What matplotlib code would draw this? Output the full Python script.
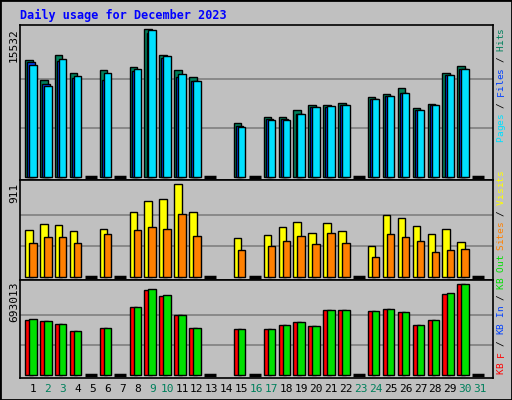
import matplotlib
matplotlib.use("Agg")
import matplotlib.pyplot as plt
from matplotlib.patches import Rectangle
import numpy as np

days = list(range(1, 32))
weekend = [2, 3, 9, 10, 16, 17, 23, 24, 30, 31]
no_data = [14]
max_hits, max_visits, max_kb = 15532, 911, 693013

# relative heights (fraction of panel max), 0 = no traffic
hits  = [0.79,0.655,0.826,0.703,0,0.724,0,0.744,1.0,0.826,0.724,0.676,0,0,0.364,0,0.407,0.407,0.455,0.488,0.488,0.5,0,0.543,0.563,0.604,0.468,0.495,0.705,0.753,0]
files = [0.777,0.628,0.786,0.669,0,0.656,0,0.715,0.977,0.806,0.674,0.65,0,0,0.343,0,0.39,0.39,0.43,0.475,0.475,0.49,0,0.53,0.55,0.57,0.455,0.49,0.69,0.733,0]
pages = [0.756,0.615,0.8,0.683,0,0.703,0,0.73,0.995,0.82,0.694,0.65,0,0,0.337,0,0.387,0.387,0.427,0.475,0.48,0.49,0,0.53,0.55,0.57,0.455,0.49,0.69,0.733,0]
visits = [0.5,0.565,0.554,0.489,0,0.51,0,0.694,0.813,0.835,1.0,0.694,0,0,0.414,0,0.446,0.532,0.586,0.468,0.576,0.489,0,0.327,0.662,0.63,0.543,0.457,0.511,0.37,0]
sites  = [0.363,0.424,0.424,0.36,0,0.457,0,0.5,0.532,0.51,0.673,0.435,0,0,0.284,0,0.327,0.381,0.435,0.349,0.468,0.36,0,0.209,0.457,0.424,0.381,0.263,0.284,0.295,0]
kb_f   = [0.607,0.593,0.56,0.484,0,0.516,0,0.747,0.934,0.872,0.659,0.516,0,0,0.505,0,0.505,0.549,0.582,0.538,0.714,0.714,0,0.703,0.725,0.692,0.549,0.604,0.89,1.0,0]
kb_out = [0.615,0.593,0.56,0.484,0,0.516,0,0.747,0.945,0.879,0.659,0.516,0,0,0.505,0,0.505,0.549,0.582,0.538,0.714,0.714,0,0.703,0.725,0.692,0.549,0.604,0.9,1.0,0]

BG = "#C0C0C0"
W, H = 512, 400
fig = plt.figure(figsize=(5.12, 4.0), dpi=100, facecolor=BG)
fig.patches.append(Rectangle((0, 0), 1, 1, transform=fig.transFigure, fill=False, ec="black", lw=2))

def ax_at(top, bottom, ylim):
    ax = fig.add_axes([20 / W, 1 - bottom / H, (493 - 20) / W, (bottom - top) / H])
    ax.set_facecolor(BG)
    ax.set_xlim(0.13, 31.87)
    ax.set_ylim(*ylim)
    ax.set_xticks([]); ax.set_yticks([])
    for s in ax.spines.values():
        s.set_color("black"); s.set_linewidth(1.2)
    ax.axhline(1/3, color="#808080", lw=1.2, zorder=0)
    ax.axhline(2/3, color="#808080", lw=1.2, zorder=0)
    return ax

def bars(ax, series):
    for vals, off, col in series:
        for d, v in zip(days, vals):
            if v > 0:
                ax.bar(d + off, v, width=0.5, align="edge", color=col, ec="black", lw=1, zorder=2)
    for d, v in zip(days, series[0][0]):
        if v == 0 and d not in no_data:
            ax.plot([d - 0.53, d + 0.27], [0, 0], color="black", lw=2.5, solid_capstyle="butt", zorder=3)

ax1 = ax_at(25, 180, (-0.02, 1.029))
bars(ax1, [(hits, -0.52, "#00805C"), (files, -0.38, "#0040FF"), (pages, -0.25, "#00E0FF")])
ax2 = ax_at(180, 280, (-0.036, 1.043))
bars(ax2, [(visits, -0.52, "#FFFF00"), (sites, -0.25, "#FF8000")])
ax3 = ax_at(280, 378, (-0.03, 1.047))
bars(ax3, [(kb_f, -0.52, "#FF0000"), (kb_out, -0.25, "#00E000")])

mono = "DejaVu Sans Mono"
fig.text(20 / W, 1 - 15 / H, "Daily usage for December 2023", color="#0000FF",
         family=mono, weight="bold", fontsize=8.5, va="center", ha="left")

for txt, top in [(str(max_hits), 28), (str(max_visits), 183), (str(max_kb), 282)]:
    fig.text(14 / W, 1 - top / H, txt, rotation=90, family=mono, fontsize=8,
             ha="center", va="top")

for d in days:
    fig.text((33 + (d - 1) * 14.9) / W, 1 - 389 / H, str(d), family=mono, fontsize=8,
             ha="center", va="center", color="#00805C" if d in weekend else "black")

FS = 6.8
CW = 0.602 * FS * 100 / 72

def side(parts, bottom_px):
    y = bottom_px
    for txt, col in parts:
        if txt.strip():
            fig.text(501 / W, 1 - y / H, txt, rotation=90, family=mono, fontsize=FS,
                     color=col, ha="center", va="bottom", rotation_mode="default")
        y -= CW * len(txt)

def total(parts):
    return CW * sum(len(t) for t, _ in parts)

top_parts = [("Pages", "#00E0FF"), (" / ", "black"), ("Files", "#0040FF"), (" / ", "black"), ("Hits", "#00805C")]
mid_parts = [("Sites", "#FF8000"), (" / ", "black"), ("Visits", "#FFFF00")]
bot_parts = [("KB F", "#FF0000"), (" / ", "black"), ("KB In", "#0040FF"), (" / ", "black"), ("KB Out", "#00E000")]

def side_chars(parts, bottom_px):
    y = bottom_px
    for txt, col in parts:
        for ch in txt:
            if ch != " ":
                fig.text(501 / W, 1 - (y - CW / 2) / H, ch, rotation=90, family=mono,
                         fontsize=FS, color=col, ha="center", va="center")
            y -= CW

side_chars(top_parts, 28 + total(top_parts))
side_chars(mid_parts, 250)
side_chars(bot_parts, 374)

fig.savefig("out.png", dpi=100, facecolor=BG)
